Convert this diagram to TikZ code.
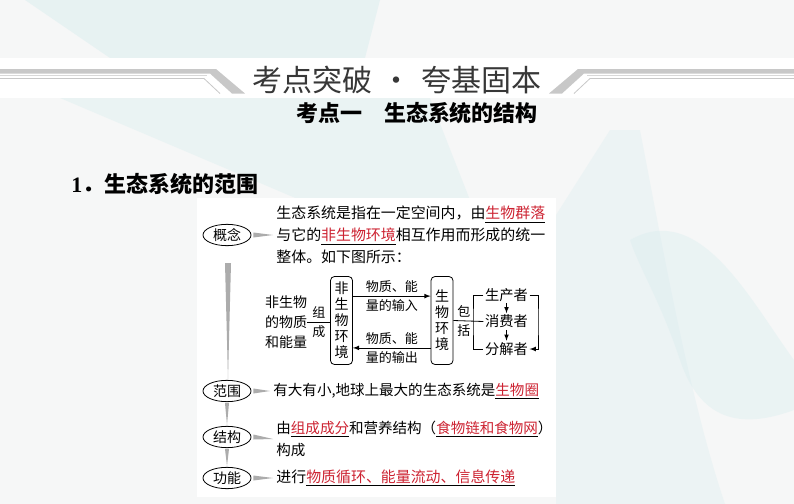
\documentclass[tikz,border=0pt]{standalone}
\usepackage{fontspec}
\setmainfont{Noto Sans CJK SC}
\newfontfamily\numfont{Liberation Serif}
\usetikzlibrary{calc,shapes.geometric,arrows,positioning}
\definecolor{textred}{RGB}{205,35,50}
\definecolor{wedgegray}{RGB}{172,172,172}
\definecolor{bandgray}{RGB}{200,200,200}
\definecolor{bgteal}{RGB}{214,236,238}
\definecolor{pagebg}{RGB}{246,247,247}
\definecolor{titlegray}{RGB}{55,55,55}
\tikzstyle{topic}=[draw,ellipse,fill=white,minimum width=36pt,minimum height=16pt,inner sep=0pt,font=\fontsize{10.5}{12}\selectfont]
\tikzstyle{desc}=[anchor=west,inner sep=0pt,align=left,font=\fontsize{11.2}{16.5}\selectfont]
\tikzstyle{pointer}=[fill=wedgegray]
\newcommand{\redline}[1]{\underline{\textcolor{textred}{#1}}}

\begin{document}
\begin{tikzpicture}[x=0.75pt,y=-0.75pt,line width=0.6pt]
\tikzstyle{column}=[draw,rounded corners=3pt,fill=white,align=center,inner sep=1.5pt,minimum width=16.5pt,minimum height=66pt,font=\fontsize{10.5}{12}\selectfont]
\tikzstyle{note}=[inner sep=2.5pt,font=\fontsize{9.75}{11}\selectfont]
\tikzstyle{member}=[inner sep=1pt,font=\fontsize{10.7}{12}\selectfont]
\useasboundingbox (0,0) rectangle (794,504);
% background
\fill[pagebg] (0,0) rectangle (794,504);
\fill[bgteal,opacity=0.45] (25,0) -- (380,0) -- (365,58) -- (110,58) -- cycle;
\fill[bgteal,opacity=0.35] (60,98) -- (430,98) -- (470,200) -- (300,200) -- cycle;
\fill[bgteal,opacity=0.3] (556,215) -- (610,130) -- (640,130) .. controls (665,260) and (690,400) .. (725,504) -- (556,504) -- cycle;
\fill[bgteal,opacity=0.35] (630,240) .. controls (700,200) and (750,300) .. (794,360) -- (794,410) .. controls (740,430) and (700,420) .. (680,360) .. controls (660,300) and (640,270) .. cycle;
% header band
\fill[white] (0,58) rectangle (794,98);
\foreach \s/\d in {0/1,794/-1} {
  \begin{scope}[shift={(\s,0)},xscale=\d]
  \fill[bandgray] (0,69) -- (216,69) -- (245,93.5) -- (232,93.5) -- (210,73.5) -- (0,73.5) -- cycle;
  \draw[bandgray!70,line width=1pt] (0,75.5) -- (207,75.5);
  \draw[bandgray] (0,78.5) -- (204,78.5) -- (220,93.5);
  \end{scope}
}
\draw (397,80) node [font=\fontsize{22.5}{24}\selectfont,text=titlegray] (title) {考点突破\hspace{0.33em}・\hspace{0.33em}夸基固本};
\draw (417,113) node [font=\bfseries\fontsize{16.5}{18}\selectfont] (sub) {考点一　生态系统的结构};
\draw (71,184) node [anchor=west,inner sep=0pt,font=\bfseries\fontsize{16.5}{18}\selectfont] (sec) {{\numfont 1}．生态系统的范围};
% panel
\fill[white] (197,198) rectangle (556,497);
% left column
\draw (227,235) node [topic] (c1) {概念};
\draw (227,391) node [topic] (c2) {范围};
\draw (227,437) node [topic] (c3) {结构};
\draw (227,478) node [topic] (c4) {功能};
\draw (276,235) node [desc] (t1) {生态系统是指在一定空间内，由\redline{生物群落}\\与它的\redline{非生物环境}相互作用而形成的统一\\整体。如下图所示：};
\draw (273,391) node [desc,font=\fontsize{10.9}{16.5}\selectfont] (t2) {有大有小,地球上最大的生态系统是\redline{生物圈}};
\draw (276,439) node [desc,font=\fontsize{10.9}{16.5}\selectfont] (t3) {由\redline{组成成分}和营养结构（\redline{食物链和食物网}）\\构成};
\draw (276,478) node [desc] (t4) {进行\redline{物质循环、能量流动、信息传递}};
\foreach \c/\t in {c1/t1,c2/t2,c3/t3,c4/t4}
  \fill[pointer] ($(\c.east)+(2,-2.5)$) -- ($(\c.east)+(2,2.5)$) -- ($(\t.west)+(-3,0)$) -- cycle;
\fill[pointer] ($(c1.south)+(-2,17)$) -- ($(c1.south)+(4,17)$) -- ($(c2.north)+(1,-1)$) -- cycle;
\fill[pointer] ($(c2.south)+(-2,1)$) -- ($(c2.south)+(2,1)$) -- ($(c3.north)+(0,-1)$) -- cycle;
\fill[pointer] ($(c3.south)+(-2,1)$) -- ($(c3.south)+(2,1)$) -- ($(c4.north)+(0,-1)$) -- cycle;
% composition diagram
\draw (286,322) node [inner sep=0pt,align=center,font=\fontsize{10.5}{15}\selectfont] (matter) {非生物\\的物质\\和能量};
\draw (341.5,320.5) node [column] (nb) {非\\生\\物\\环\\境};
\draw (442,320.5) node [column] (bb) {生\\物\\环\\境};
\draw (506.5,295) node [member] (prod) {生产者};
\draw (506.5,321.5) node [member] (cons) {消费者};
\draw (506.5,349) node [member] (dec) {分解者};
\coordinate (br) at (473,321.5);
\coordinate (lp) at (538,321.5);
\draw (matter.east) -- (matter.east -| nb.west) node [note,midway,above] {组} node [note,midway,below] {成};
\draw[-latex] ($(nb.north east)+(0,20)$) -- ($(bb.north west)+(0,20)$) node [note,midway,above] {物质、能} node [note,midway,below] {量的输入};
\draw[-latex] ($(bb.south west)+(0,-17)$) -- ($(nb.south east)+(0,-17)$) node [note,midway,above] {物质、能} node [note,midway,below] {量的输出};
\draw (bb.east) -- (cons.west) node [note,pos=0.35,above] {包} node [note,pos=0.35,below] {括};
\draw (prod.west) -| (br) |- (dec.west);
\draw[-latex] (prod) -- (cons);
\draw[-latex] (cons) -- (dec);
\draw[-latex] (prod.east) -| (lp) |- (dec.east);
\end{tikzpicture}
\end{document}
